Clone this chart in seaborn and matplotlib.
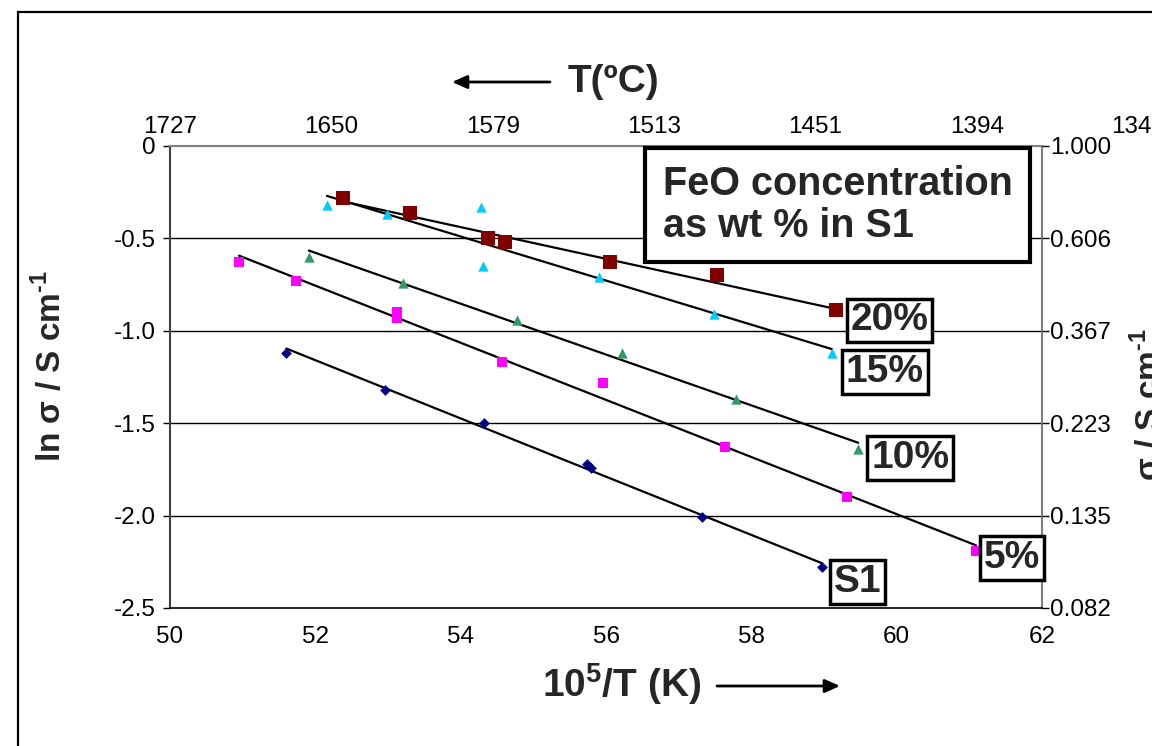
import numpy as np
import pandas as pd
import matplotlib
matplotlib.use("Agg")
import matplotlib.pyplot as plt
from matplotlib.patches import Rectangle, FancyArrowPatch
import seaborn as sns

# ---------------- data ----------------
s1_x = [51.60, 52.96, 54.32, 55.74, 55.79, 57.32, 58.97]
s1_y = [-1.12, -1.32, -1.50, -1.72, -1.74, -2.01, -2.28]

fe5_x = [50.95, 51.73, 53.12, 53.12, 54.57, 55.96, 57.64, 59.32, 61.09]
fe5_y = [-0.63, -0.73, -0.90, -0.93, -1.17, -1.28, -1.63, -1.90, -2.19]

fe10_x = [51.91, 53.21, 54.78, 56.22, 57.79, 59.47]
fe10_y = [-0.60, -0.74, -0.94, -1.12, -1.37, -1.64]

fe15_x = [52.16, 52.99, 54.28, 54.31, 55.90, 57.49, 59.11]
fe15_y = [-0.32, -0.37, -0.33, -0.65, -0.71, -0.91, -1.12]

fe20_x = [52.38, 53.30, 54.38, 54.61, 56.05, 57.53, 59.16]
fe20_y = [-0.28, -0.36, -0.50, -0.52, -0.63, -0.70, -0.89]

series_names = ["S1", "5%", "10%", "15%", "20%"]
x_ticks = [50, 52, 54, 56, 58, 60, 62]
y_ticks = [0, -0.5, -1.0, -1.5, -2.0, -2.5]
y_tick_labels = ["0", "-0.5", "-1.0", "-1.5", "-2.0", "-2.5"]
right_tick_labels = ["1.000", "0.606", "0.367", "0.223", "0.135", "0.082"]
top_tick_labels = ["1727", "1650", "1579", "1513", "1451", "1394", "1340"]

legend_title = "FeO concentration\nas wt % in S1"

# ---------------- style ----------------
sns.set_theme(style="white")
plt.rcParams["font.family"] = ["Liberation Sans", "DejaVu Sans"]
plt.rcParams["mathtext.fontset"] = "custom"
plt.rcParams["mathtext.rm"] = "Liberation Sans:bold"
plt.rcParams["mathtext.bf"] = "Liberation Sans:bold"
plt.rcParams["axes.unicode_minus"] = False

W, H = 1152, 746
fig = plt.figure(figsize=(W / 100, H / 100), dpi=100)
fig.patch.set_facecolor("white")


def fx(px):
    return px / W


def fy(py):
    return 1 - py / H


ax_l, ax_r, ax_t, ax_b = 170, 1042, 146, 608
ax = fig.add_axes([fx(ax_l), fy(ax_b), (ax_r - ax_l) / W, (ax_b - ax_t) / H])

frames = []
for name, xs, ys in zip(series_names,
                        [s1_x, fe5_x, fe10_x, fe15_x, fe20_x],
                        [s1_y, fe5_y, fe10_y, fe15_y, fe20_y]):
    frames.append(pd.DataFrame({"x": xs, "y": ys, "series": name}))
df = pd.concat(frames, ignore_index=True)

palette = {"S1": "#000080", "5%": "#FF00FF", "10%": "#339966",
           "15%": "#00CCFF", "20%": "#800000"}
markers = {"S1": "D", "5%": "s", "10%": "^", "15%": "^", "20%": "s"}
msizes = {"S1": 30, "5%": 45, "10%": 55, "15%": 55, "20%": 110}

# gridlines
for yt in y_ticks[1:-1]:
    ax.axhline(yt, color="black", lw=1.0, zorder=1)

for name in series_names:
    sub = df[df.series == name]
    sns.regplot(data=sub, x="x", y="y", ax=ax, scatter=False, ci=None,
                truncate=True, line_kws=dict(color="black", lw=1.6, zorder=3))
    sns.scatterplot(data=sub, x="x", y="y", ax=ax, color=palette[name],
                    marker=markers[name], s=msizes[name], linewidth=0,
                    zorder=4, legend=False)

ax.set_xlim(50, 62)
ax.set_ylim(-2.5, 0)
ax.set_xticks(x_ticks)
ax.set_xticklabels([str(t) for t in x_ticks])
ax.set_yticks(y_ticks)
ax.set_yticklabels(y_tick_labels)
ax.set_xlabel("")
ax.set_ylabel("")
ax.tick_params(axis="both", labelsize=17.5, colors="black", length=5,
               width=1, direction="out")
ax.tick_params(axis="x", pad=8)
ax.tick_params(axis="y", pad=5)
for side in ["top", "right"]:
    ax.spines[side].set_color("#808080")
    ax.spines[side].set_linewidth(1.5)
ax.spines["left"].set_color("#404040")
ax.spines["left"].set_linewidth(1.5)
ax.spines["bottom"].set_color("black")
ax.spines["bottom"].set_linewidth(1.2)

# right axis
axr = ax.twinx()
axr.set_ylim(-2.5, 0)
axr.set_yticks(y_ticks)
axr.set_yticklabels(right_tick_labels)
axr.tick_params(axis="y", labelsize=17.5, length=5, width=1, pad=1,
                direction="out", colors="black")
for s in axr.spines.values():
    s.set_visible(False)
axr.grid(False)

# top temperature axis (own scale, wider than the plot area)
top_w = 968
axt = fig.add_axes([fx(ax_l), fy(ax_b), top_w / W, (ax_b - ax_t) / H])
axt.patch.set_visible(False)
for s in axt.spines.values():
    s.set_visible(False)
axt.set_xlim(50, 62)
axt.set_ylim(0, 1)
axt.set_yticks([])
axt.xaxis.tick_top()
axt.set_xticks(x_ticks)
axt.set_xticklabels(top_tick_labels)
axt.tick_params(axis="x", length=0, pad=6, labelsize=17.5, colors="black")
axt.set_zorder(-1)

# series labels
label_offsets = {"20%": (15, -10), "15%": (14, -19), "10%": (13, -9),
                 "5%": (8, -7), "S1": (12, -15)}
for name in series_names:
    sub = df[df.series == name]
    last = sub.loc[sub.x.idxmax()]
    ax.annotate(name, xy=(last.x, last.y), xytext=label_offsets[name],
                textcoords="offset pixels", ha="left", va="center",
                fontsize=28, fontweight="bold", zorder=6,
                bbox=dict(boxstyle="square,pad=0.1", fc="white",
                          ec="black", lw=2.5),
                annotation_clip=False)

# legend-like title box
fig.patches.append(Rectangle((fx(645), fy(262)), (1030 - 645) / W,
                             (262 - 148) / H, transform=fig.transFigure,
                             fc="white", ec="black", lw=3, zorder=5))
fig.text(fx(663), fy(205), legend_title, ha="left", va="center",
         fontsize=28.5, fontweight="bold", linespacing=1.15, zorder=6)

# axis titles
fig.text(fx(50), fy(366), r"ln σ / S cm$^{\text{-1}}$", rotation=90,
         ha="center", va="center", fontsize=24, fontweight="bold")
fig.text(fx(1131), fy(405), r"σ / S cm$^{\text{-1}}$", rotation=90,
         ha="left", va="center", fontsize=24, fontweight="bold")
fig.text(fx(622), fy(684), r"10$^{5}$/T (K)", ha="center",
         va="center", fontsize=28, fontweight="bold")
fig.text(fx(613), fy(82), "T(ºC)", ha="center", va="center",
         fontsize=28, fontweight="bold")

arrow_kw = dict(arrowstyle="-|>,head_length=0.45,head_width=0.2",
                mutation_scale=20, lw=2, color="black", shrinkA=0, shrinkB=0)
fig.add_artist(FancyArrowPatch((fx(550), fy(82)), (fx(452), fy(82)),
                               transform=fig.transFigure, **arrow_kw))
fig.add_artist(FancyArrowPatch((fx(717), fy(686)), (fx(840), fy(686)),
                               transform=fig.transFigure, **arrow_kw))

# outer chart frame
fig.patches.append(Rectangle((fx(18), fy(800)), (1300 - 18) / W,
                             (800 - 12) / H, transform=fig.transFigure,
                             fc="none", ec="black", lw=1.6, zorder=0))

fig.savefig("out.png", dpi=100)
